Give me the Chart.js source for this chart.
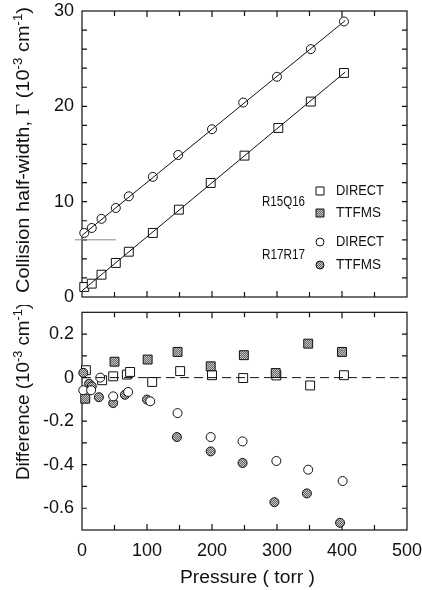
<!DOCTYPE html>
<html><head><meta charset="utf-8">
<script src="https://cdn.jsdelivr.net/npm/chart.js@4.4.1/dist/chart.umd.min.js"></script>
<style>
html,body{margin:0;padding:0;background:#fff;}
#wrap{position:relative;width:422px;height:590px;overflow:hidden;}
#c1{position:absolute;left:0;top:0;}
#c2{position:absolute;left:0;top:305px;}
</style></head><body>
<div id="wrap"><canvas id="c1" width="422" height="305"></canvas><canvas id="c2" width="422" height="285"></canvas></div>
<script>
// ---------- DATA ----------
// Top panel: collision half-width (10^-3 cm^-1) vs pressure (torr)
const pressR17 = [3.5, 15, 30, 52, 72, 109, 148, 200, 248, 300, 352, 403];
const gammaR17Direct = [6.72, 7.24, 8.2, 9.34, 10.56, 12.6, 14.9, 17.6, 20.4, 23.1, 26.0, 28.9];
const pressR15 = [3.5, 15, 30, 52, 72, 109, 149, 198, 250, 302, 352, 403];
const gammaR15Direct = [1.05, 1.40, 2.34, 3.57, 4.75, 6.72, 9.16, 11.96, 14.83, 17.73, 20.5, 23.5];
const fitPress = [0, 405];
const fitR17 = [6.46, 29.0];
const fitR15 = [0.65, 23.6];

// Bottom panel: difference (10^-3 cm^-1)
const dPressR15Direct = [6, 31, 48, 69, 74, 108, 151, 200, 248, 299, 351, 403];
const dR15Direct = [0.034, -0.012, 0.006, 0.014, 0.026, -0.02, 0.03, 0.011, -0.002, 0.01, -0.036, 0.011];
const dPressR15Ttfms = [5, 50, 101, 147, 198, 249, 298, 348, 400];
const dR15Ttfms = [-0.097, 0.073, 0.083, 0.118, 0.052, 0.103, 0.021, 0.156, 0.118];
const dPressR17Direct = [2, 14, 28, 48, 71, 105, 147, 198, 247, 299, 348, 401];
const dR17Direct = [-0.058, -0.058, 0.0, -0.086, -0.066, -0.109, -0.163, -0.273, -0.293, -0.383, -0.423, -0.475];
const dPressR17Ttfms = [2, 11, 15, 26, 48, 66, 100, 146, 198, 247, 296, 346, 397];
const dR17Ttfms = [0.022, -0.028, -0.04, -0.09, -0.117, -0.079, -0.101, -0.273, -0.339, -0.392, -0.572, -0.532, -0.667];
const zeroPress = [0, 500];
const zeroVals = [0, 0];

const xTicksLabels = [0, 100, 200, 300, 400, 500];
const legendGroups = ['R15Q16', 'R17R17'];
const legendMethods = ['DIRECT', 'TTFMS'];

// ---------- STYLE ----------
const INK = '#111';
const FONT = '"Liberation Sans", Arial, Helvetica, sans-serif';
const pc = document.createElement('canvas'); pc.width = 2; pc.height = 2;
const pctx = pc.getContext('2d');
pctx.fillStyle = '#c4c4c4'; pctx.fillRect(0,0,2,2);
pctx.fillStyle = '#666'; pctx.fillRect(0,0,1,1); pctx.fillRect(1,1,1,1);
const GRAYFILL = pctx.createPattern(pc, 'repeat');

const zip = (xs, ys) => xs.map((x, i) => ({x, y: ys[i]}));

function richText(ctx, parts, cx, cy, rot, targetLen, size) {
  ctx.save();
  ctx.translate(cx, cy); ctx.rotate(rot);
  let w = 0;
  const fontOf = p => (p.sup ? Math.round(size*0.66) : size) + 'px ' + (p.serif ? '"Liberation Serif", "Times New Roman", serif' : FONT);
  parts.forEach(p => { ctx.font = fontOf(p); p.w = ctx.measureText(p.t).width; w += p.w; });
  const sx = targetLen ? targetLen / w : 1;
  ctx.scale(sx, 1);
  let x = -w / 2;
  const base = size * 0.36;
  ctx.fillStyle = INK; ctx.textBaseline = 'alphabetic'; ctx.textAlign = 'left';
  parts.forEach(p => { ctx.font = fontOf(p); ctx.fillText(p.t, x, p.sup ? base - size*0.4 : base); x += p.w; });
  ctx.restore();
}

const framePlugin = {
  id: 'frame',
  beforeDatasetsDraw(chart) {
    const {ctx, chartArea: a, scales: {x, y}} = chart;
    ctx.save();
    ctx.strokeStyle = INK; ctx.lineWidth = 1.2;
    ctx.strokeRect(a.left, a.top, a.right - a.left, a.bottom - a.top);
    ctx.beginPath();
    x.ticks.forEach(t => {
      const px = x.getPixelForValue(t.value);
      if (px <= a.left + 1 || px >= a.right - 1) return;
      const len = (Math.round(t.value) % 100 === 0) ? 6 : 5;
      ctx.moveTo(px, a.bottom); ctx.lineTo(px, a.bottom - len);
      ctx.moveTo(px, a.top); ctx.lineTo(px, a.top + len);
    });
    y.ticks.forEach(t => {
      const py = y.getPixelForValue(t.value);
      if (py <= a.top + 1 || py >= a.bottom - 1) return;
      ctx.moveTo(a.left, py); ctx.lineTo(a.left + 5, py);
      ctx.moveTo(a.right, py); ctx.lineTo(a.right - 5, py);
    });
    ctx.stroke();
    ctx.restore();
  }
};

const topDeco = {
  id: 'topDeco',
  afterDraw(chart) {
    const {ctx, scales: {x, y}} = chart;
    ctx.save();
    // faint stray rule present in the scanned original
    ctx.strokeStyle = '#8a8a8a'; ctx.lineWidth = 1;
    ctx.beginPath();
    ctx.moveTo(x.getPixelForValue(-11), y.getPixelForValue(6.0));
    ctx.lineTo(x.getPixelForValue(52), y.getPixelForValue(6.0));
    ctx.stroke();
    // legend
    ctx.fillStyle = INK; ctx.strokeStyle = INK; ctx.lineWidth = 1;
    ctx.textBaseline = 'middle'; ctx.textAlign = 'left';
    ctx.font = '15px ' + FONT;
    ctx.fillText(legendGroups[0], 262, 202, 43);
    ctx.fillText(legendGroups[1], 262, 255, 43);
    ctx.font = '14px ' + FONT;
    const rows = [191, 213, 242, 265];
    rows.forEach((ry, i) => {
      const isSq = i < 2, filled = i % 2 === 1;
      ctx.beginPath();
      if (isSq) ctx.rect(316, ry - 4, 8, 8); else ctx.arc(320, ry, 4, 0, Math.PI*2);
      ctx.fillStyle = filled ? GRAYFILL : '#fff'; ctx.fill(); ctx.stroke();
      ctx.fillStyle = INK;
      ctx.fillText(legendMethods[i % 2], 336, ry, i % 2 ? 45 : 48);
    });
    // y title
    richText(ctx, [{t:'Collision half-width, '}, {t:'\u0393', serif:true}, {t:' (10'}, {t:'-3', sup:true}, {t:' cm'}, {t:'-1', sup:true}, {t:')'}], 23, 150, -Math.PI/2, 286, 18);
    ctx.restore();
  }
};

const botDeco = {
  id: 'botDeco',
  afterDraw(chart) {
    const {ctx} = chart;
    richText(ctx, [{t:'Difference (10'}, {t:'-3', sup:true}, {t:' cm'}, {t:'-1', sup:true}, {t:')'}], 23, 86.5, -Math.PI/2, 177, 18);
    richText(ctx, [{t:'Pressure ( torr )'}], 247.5, 272, 0, 135, 18);
  }
};

const noPadX = (h) => s => { s.height = h; s.paddingLeft = 0; s.paddingRight = 0; };
const noPadY = s => { s.width = 82; s.paddingTop = 0; s.paddingBottom = 0; };

Chart.defaults.font.family = FONT;
Chart.defaults.color = INK;

const sq = (fill) => ({pointStyle: 'rect', pointRadius: 6.3, pointHoverRadius: 6.3, pointBorderWidth: 1, pointBorderColor: INK, pointBackgroundColor: fill, showLine: false, clip: false});
const ci = (fill) => ({pointStyle: 'circle', pointRadius: 4.5, pointHoverRadius: 4.5, pointBorderWidth: 1, pointBorderColor: INK, pointBackgroundColor: fill, showLine: false, clip: false});

new Chart(document.getElementById('c1'), {
  type: 'scatter',
  data: {
    datasets: [
      {type: 'line', data: zip(fitPress, fitR17), borderColor: INK, borderWidth: 1, pointRadius: 0, fill: false},
      {type: 'line', data: zip(fitPress, fitR15), borderColor: INK, borderWidth: 1, pointRadius: 0, fill: false},
      Object.assign({label: 'R17R17 DIRECT', data: zip(pressR17, gammaR17Direct)}, ci('#fff')),
      Object.assign({label: 'R15Q16 DIRECT', data: zip(pressR15, gammaR15Direct)}, sq('#fff')),
    ]
  },
  options: {
    responsive: false, animation: false, events: [],
    layout: {padding: {top: 11, right: 15, bottom: 8, left: 0}},
    plugins: {legend: {display: false}, tooltip: {enabled: false}},
    scales: {
      x: {type: 'linear', min: 0, max: 500, ticks: {display: false, stepSize: 50}, grid: {display: false, drawTicks: false}, border: {display: false}, afterFit: noPadX(0)},
      y: {type: 'linear', min: 0, max: 30, ticks: {stepSize: 2, autoSkip: false, padding: 8, font: {size: 18}, color: INK,
            callback: v => (Math.round(v) % 10 === 0 ? String(Math.round(v)) : '')},
          grid: {display: false, drawTicks: false}, border: {display: false}, afterFit: noPadY}
    }
  },
  plugins: [framePlugin, topDeco]
});

new Chart(document.getElementById('c2'), {
  type: 'scatter',
  data: {
    datasets: [
      {type: 'line', data: zip(zeroPress, zeroVals), borderColor: INK, borderWidth: 1, borderDash: [9, 5], pointRadius: 0, fill: false},
      Object.assign({label: 'R17R17 DIRECT', data: zip(dPressR17Direct, dR17Direct)}, ci('#fff')),
      Object.assign({label: 'R17R17 TTFMS', data: zip(dPressR17Ttfms, dR17Ttfms)}, ci(GRAYFILL)),
      Object.assign({label: 'R15Q16 TTFMS', data: zip(dPressR15Ttfms, dR15Ttfms)}, sq(GRAYFILL)),
      Object.assign({label: 'R15Q16 DIRECT', data: zip(dPressR15Direct, dR15Direct)}, sq('#fff')),
    ]
  },
  options: {
    responsive: false, animation: false, events: [],
    layout: {padding: {top: 7, right: 15, bottom: 0, left: 0}},
    plugins: {legend: {display: false}, tooltip: {enabled: false}},
    scales: {
      x: {type: 'linear', min: 0, max: 500, ticks: {stepSize: 50, autoSkip: false, maxRotation: 0, padding: 10, font: {size: 18}, color: INK,
            callback: v => (xTicksLabels.includes(Math.round(v)) ? String(Math.round(v)) : '')},
          grid: {display: false, drawTicks: false}, border: {display: false}, afterFit: noPadX(60)},
      y: {type: 'linear', min: -0.7, max: 0.3, ticks: {stepSize: 0.1, autoSkip: false, padding: 8, font: {size: 18}, color: INK,
            callback: v => { const k = Math.round(v * 10); return (k % 2 === 0) ? (k === 0 ? '0' : (k / 10).toFixed(1)) : ''; }},
          grid: {display: false, drawTicks: false}, border: {display: false}, afterFit: noPadY}
    }
  },
  plugins: [framePlugin, botDeco]
});
</script>
</body></html>
